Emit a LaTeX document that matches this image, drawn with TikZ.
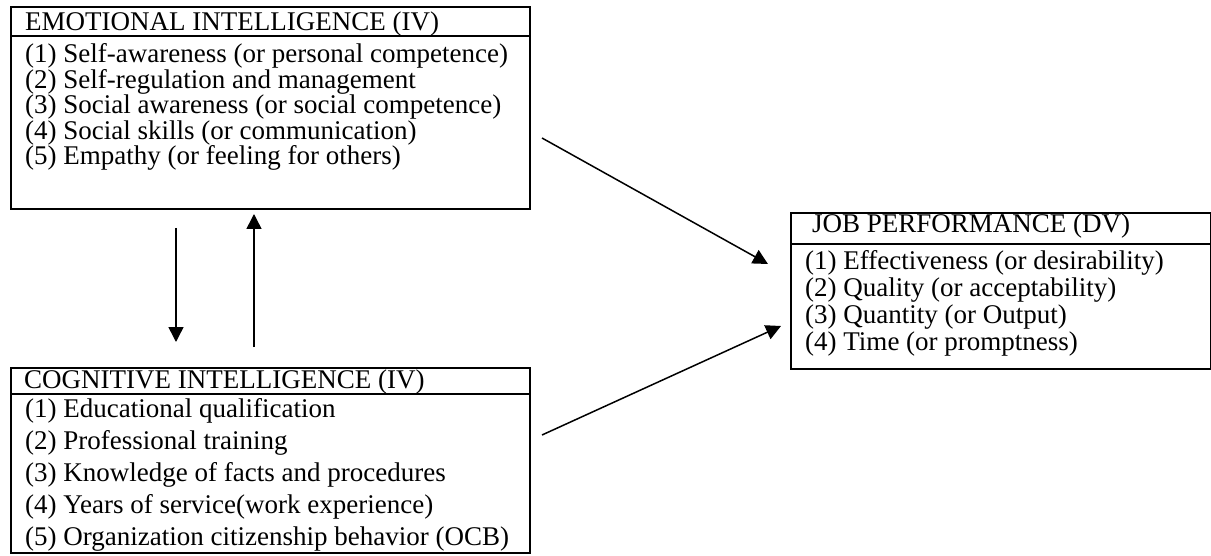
\documentclass[tikz,border=0pt]{standalone}
\usepackage{fontspec}
\setmainfont{Liberation Serif}
\usetikzlibrary{arrows.meta}
\begin{document}
\begin{tikzpicture}[x=1pt,y=-1pt,
  boxline/.style={draw=black, line width=2pt},
  frame/.style={boxline, anchor=north west, inner sep=0pt},
  txt/.style={anchor=base west, inner sep=0pt, font=\fontsize{27}{27}\selectfont},
  arr/.style={line width=1.5pt, -{Triangle[length=15pt,width=15pt]}}]
\useasboundingbox (0,0) rectangle (1211,556);
% Emotional intelligence box
\node[frame, minimum width=519pt, minimum height=202pt] (ei) at (10,6) {};
\draw[boxline] (10,36.5) -- (529,36.5);
\node[txt] (eih) at (25,31) {EMOTIONAL INTELLIGENCE (IV)};
\node[txt] (ei1) at (25,63) {(1) Self-awareness (or personal competence)};
\node[txt] (ei2) at (25,88.5) {(2) Self-regulation and management};
\node[txt] (ei3) at (25,114) {(3) Social awareness (or social competence)};
\node[txt] (ei4) at (25,139.5) {(4) Social skills (or communication)};
\node[txt] (ei5) at (25,165) {(5) Empathy (or feeling for others)};
% Cognitive intelligence box
\node[frame, minimum width=519pt, minimum height=185pt] (ci) at (10,367) {};
\draw[boxline] (10,394) -- (529,394);
\node[txt] (cih) at (24,388) {COGNITIVE INTELLIGENCE (IV)};
\node[txt] (ci1) at (25,417) {(1) Educational qualification};
\node[txt] (ci2) at (25,449) {(2) Professional training};
\node[txt] (ci3) at (25,481) {(3) Knowledge of facts and procedures};
\node[txt] (ci4) at (25,513) {(4) Years of service(work experience)};
\node[txt] (ci5) at (25,545) {(5) Organization citizenship behavior (OCB)};
% Job performance box
\node[frame, minimum width=420pt, minimum height=156pt] (jp) at (790,212) {};
\draw[boxline] (790,244.5) -- (1210,244.5);
\node[txt] (jph) at (812,233) {JOB PERFORMANCE (DV)};
\node[txt] (jp1) at (805,270) {(1) Effectiveness (or desirability)};
\node[txt] (jp2) at (805,296.7) {(2) Quality (or acceptability)};
\node[txt] (jp3) at (805,323.4) {(3) Quantity (or Output)};
\node[txt] (jp4) at (805,350) {(4) Time (or promptness)};
% arrows
\coordinate (eis) at (542,138);
\coordinate (jpa) at (768,264);
\coordinate (cis) at (542,435);
\coordinate (jpb) at (781,326);
\coordinate (dn1) at (176,228);
\coordinate (dn2) at (176,342);
\coordinate (up1) at (254,347);
\coordinate (up2) at (254,214);
\draw[arr] (eis) -- (jpa);
\draw[arr] (cis) -- (jpb);
\draw[arr] (dn1) -- (dn2);
\draw[arr] (up1) -- (up2);
\end{tikzpicture}
\end{document}
